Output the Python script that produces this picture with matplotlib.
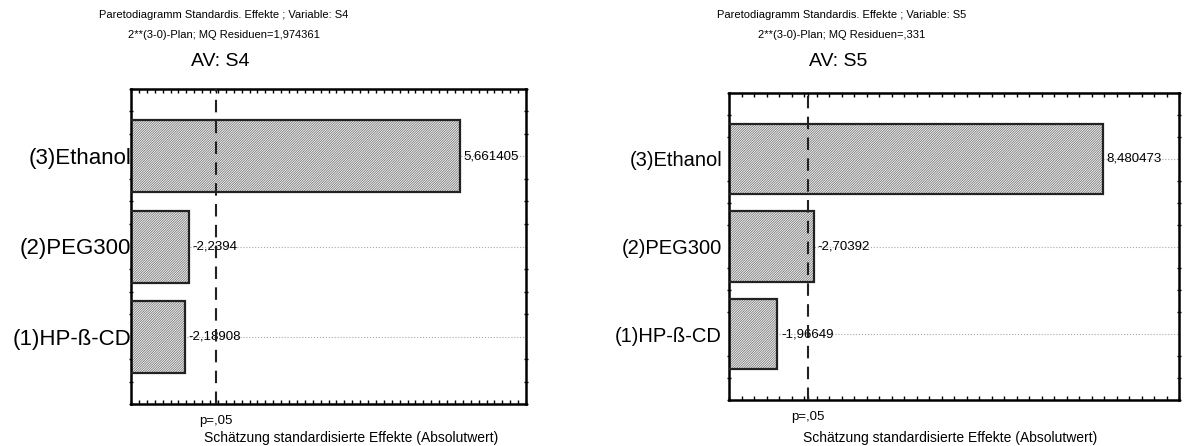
import numpy as np
import matplotlib
matplotlib.use("Agg")
import matplotlib.pyplot as plt
from matplotlib.ticker import MultipleLocator

plt.rcParams['font.family'] = ['Liberation Sans', 'DejaVu Sans']
plt.rcParams['hatch.linewidth'] = 0.5

faktoren = ["(1)HP-ß-CD", "(2)PEG300", "(3)Ethanol"]
effekte_s4 = [-2.18908, -2.2394, 5.661405]
effekte_s5 = [-1.96649, -2.70392, 8.480473]
mq_s4 = "1,974361"
mq_s5 = ",331"
p_grenze = 2.571

fig = plt.figure(figsize=(11.86, 4.46), dpi=100)


def pareto(ax, effekte, variable, mq, xlim, minor_step, title_x, xlabel_xy, ysize, ypad):
    y = np.arange(len(faktoren))
    werte = np.abs(effekte)
    ax.set_xlim(*xlim)
    ax.set_ylim(-0.75, 2.75)
    ax.grid(axis='y', color='#a8a8a8', linestyle=':', linewidth=0.8, zorder=0)
    ax.barh(y, werte, height=0.8, left=0, color='#f2f2f2', hatch='//////////////',
            edgecolor='#6a6a6a', linewidth=0, zorder=2)
    ax.barh(y, werte, height=0.8, left=0, fill=False, edgecolor='#222222',
            linewidth=1.6, zorder=3)
    for yi, w, e in zip(y, werte, effekte):
        ax.text(w + (xlim[1] - xlim[0]) * 0.008, yi, str(e).replace('.', ','),
                va='center', ha='left', fontsize=9.5, zorder=4)
    ax.axvline(p_grenze, color='#222222', linestyle=(0, (6, 4)), linewidth=1.5, zorder=5)

    ax.set_yticks(y)
    ax.set_yticklabels(faktoren, fontsize=ysize)
    ax.yaxis.set_minor_locator(MultipleLocator(0.25))
    ax.set_xticks([p_grenze])
    ax.set_xticklabels(["p=,05"], fontsize=9.5)
    ax.xaxis.set_minor_locator(MultipleLocator(minor_step))
    ax.tick_params(axis='x', which='both', direction='in', top=True, bottom=True,
                   length=3, width=1, pad=8)
    ax.tick_params(axis='y', which='both', direction='inout', left=True, right=True,
                   length=3, width=1, pad=ypad)
    ax.tick_params(axis='y', which='major', length=0)
    for s in ax.spines.values():
        s.set_linewidth(1.8)
    ax.set_xlabel("Schätzung standardisierte Effekte (Absolutwert)", fontsize=10)
    ax.xaxis.set_label_coords(*xlabel_xy)

    fig.text(title_x, 1 - 15 / 446, f"Paretodiagramm Standardis. Effekte ; Variable: {variable}",
             ha='center', va='center', fontsize=8)
    fig.text(title_x, 1 - 35 / 446, f"2**(3-0)-Plan; MQ Residuen={mq}",
             ha='center', va='center', fontsize=8)
    fig.text(title_x - 4 / 1186, 1 - 61 / 446, f"AV: {variable}",
             ha='center', va='center', fontsize=14)


ax1 = fig.add_axes([131 / 1186, 1 - 404 / 446, 395 / 1186, 315 / 446])
pareto(ax1, effekte_s4, "S4", mq_s4, (1.5, 6.5), 0.1, 224 / 1186, (0.557, -0.086), 16, 0)

ax2 = fig.add_axes([729 / 1186, 1 - 400 / 446, 450 / 1186, 307 / 446])
pareto(ax2, effekte_s5, "S5", mq_s5, (1.0, 10.0), 0.25, 842 / 1186, (0.491, -0.101), 14.5, 5)

fig.savefig("out.png", dpi=100)
